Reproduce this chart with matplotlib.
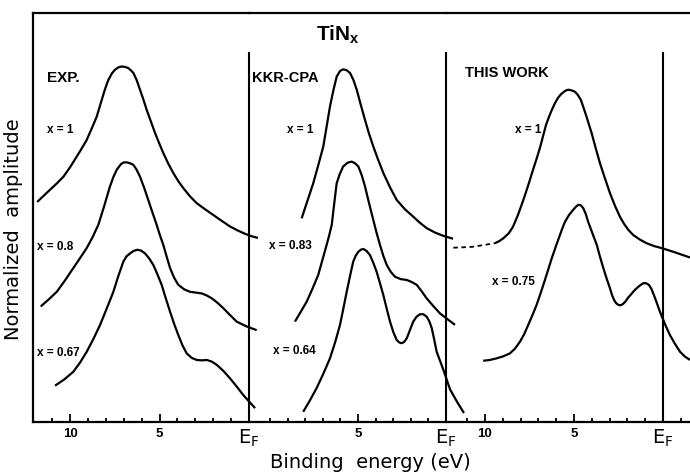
import matplotlib
matplotlib.use("Agg")
import matplotlib.pyplot as plt

# Panel 1: experiment (binding energy in eV, normalized amplitude in arb. units)
exp_x1_e = [11.84, 11.48, 11.12, 10.75, 10.37, 10.00, 9.63, 9.35, 9.07, 8.80, 8.51, 8.23,
            8.05, 7.86, 7.66, 7.49, 7.29, 7.11, 6.93, 6.74, 6.59, 6.46, 6.28, 6.09,
            5.90, 5.72, 5.48, 5.25, 5.02, 4.79, 4.50, 4.23, 3.95, 3.67, 3.30, 2.92,
            2.45, 1.99, 1.50, 1.06, 0.62, 0.22, -0.15, -0.50]
exp_x1_a = [5.39, 5.54, 5.69, 5.84, 6.01, 6.24, 6.50, 6.70, 6.91, 7.18, 7.48, 7.89,
            8.15, 8.38, 8.54, 8.63, 8.69, 8.71, 8.70, 8.67, 8.61, 8.55, 8.38, 8.14,
            7.90, 7.65, 7.36, 7.08, 6.83, 6.59, 6.32, 6.10, 5.90, 5.73, 5.53, 5.36,
            5.21, 5.07, 4.92, 4.79, 4.69, 4.61, 4.55, 4.51]
exp_x08_e = [11.64, 11.20, 10.74, 10.28, 9.82, 9.45, 9.07, 8.75, 8.42, 8.10, 7.77, 7.58,
             7.39, 7.15, 6.99, 6.83, 6.65, 6.46, 6.28, 6.09, 5.86, 5.63, 5.40, 5.16,
             4.98, 4.79, 4.60, 4.41, 4.18, 3.95, 3.62, 3.30, 2.97, 2.64, 2.36, 2.08,
             1.76, 1.44, 1.06, 0.69, 0.13, -0.43]
exp_x08_a = [2.83, 3.00, 3.19, 3.47, 3.77, 4.01, 4.26, 4.52, 4.83, 5.28, 5.77, 6.00,
             6.18, 6.32, 6.36, 6.36, 6.34, 6.30, 6.18, 6.01, 5.74, 5.44, 5.14, 4.83,
             4.58, 4.34, 4.05, 3.77, 3.53, 3.36, 3.25, 3.19, 3.17, 3.15, 3.10, 3.03,
             2.92, 2.79, 2.62, 2.46, 2.34, 2.25]
exp_x067_e = [10.84, 10.33, 9.82, 9.45, 9.07, 8.70, 8.32, 7.95, 7.58, 7.30, 7.02, 6.84,
              6.65, 6.45, 6.24, 6.03, 5.81, 5.58, 5.35, 5.12, 4.88, 4.65, 4.41, 4.18,
              3.95, 3.72, 3.48, 3.20, 2.92, 2.64, 2.36, 2.08, 1.80, 1.43, 1.06, 0.69,
              0.32, -0.34]
exp_x067_a = [0.89, 1.04, 1.23, 1.45, 1.72, 2.03, 2.38, 2.78, 3.19, 3.58, 3.93, 4.06,
              4.13, 4.19, 4.22, 4.20, 4.13, 4.01, 3.85, 3.62, 3.36, 3.03, 2.70, 2.40,
              2.13, 1.88, 1.68, 1.57, 1.52, 1.51, 1.52, 1.48, 1.40, 1.25, 1.07, 0.87,
              0.66, 0.34]

# Panel 2: KKR-CPA
kkr_x1_e = [8.20, 7.87, 7.54, 7.25, 6.97, 6.78, 6.59, 6.40, 6.21, 6.02, 5.84, 5.65,
            5.45, 5.26, 5.07, 4.84, 4.60, 4.37, 4.13, 3.85, 3.56, 3.18, 2.80, 2.33,
            1.86, 1.48, 1.10, 0.62, 0.15, -0.40]
kkr_x1_a = [4.99, 5.42, 5.85, 6.30, 6.75, 7.24, 7.73, 8.12, 8.46, 8.60, 8.64, 8.62,
            8.55, 8.38, 8.14, 7.77, 7.40, 7.06, 6.75, 6.42, 6.10, 5.75, 5.44, 5.21,
            5.03, 4.88, 4.75, 4.64, 4.56, 4.49]
kkr_x083_e = [8.58, 8.25, 7.91, 7.58, 7.26, 7.02, 6.78, 6.63, 6.49, 6.35, 6.21, 6.03,
              5.84, 5.60, 5.36, 5.17, 4.98, 4.79, 4.60, 4.37, 4.13, 3.94, 3.75, 3.56,
              3.37, 3.14, 2.90, 2.57, 2.23, 1.95, 1.66, 1.38, 1.10, 0.72, 0.34, -0.08,
              -0.51]
kkr_x083_a = [2.46, 2.70, 2.95, 3.27, 3.60, 3.97, 4.34, 4.58, 4.83, 5.35, 5.85, 6.08,
              6.26, 6.35, 6.38, 6.34, 6.26, 6.05, 5.77, 5.36, 4.95, 4.63, 4.34, 4.07,
              3.85, 3.68, 3.56, 3.50, 3.48, 3.43, 3.36, 3.20, 3.03, 2.84, 2.66, 2.52,
              2.38]
kkr_x064_e = [8.11, 7.73, 7.35, 6.97, 6.59, 6.30, 6.02, 5.83, 5.64, 5.45, 5.27, 5.12,
              4.98, 4.84, 4.70, 4.51, 4.32, 4.13, 3.94, 3.75, 3.56, 3.37, 3.18, 2.99,
              2.80, 2.66, 2.52, 2.38, 2.23, 2.05, 1.86, 1.67, 1.48, 1.29, 1.10, 0.95,
              0.81, 0.67, 0.53, 0.34, 0.15, -0.23, -0.62, -1.02]
kkr_x064_a = [0.25, 0.53, 0.83, 1.18, 1.56, 1.95, 2.38, 2.78, 3.19, 3.58, 3.93, 4.08,
              4.17, 4.22, 4.24, 4.19, 4.09, 3.90, 3.68, 3.40, 3.11, 2.78, 2.46, 2.20,
              2.01, 1.95, 1.93, 1.96, 2.05, 2.25, 2.46, 2.58, 2.64, 2.64, 2.58, 2.47,
              2.30, 2.02, 1.72, 1.50, 1.28, 0.80, 0.50, 0.22]

# Panel 3: this work (x = 1 has a dashed low-energy tail)
this_x1_tail_e = [11.78, 10.73, 9.72, 9.44]
this_x1_tail_a = [4.27, 4.29, 4.36, 4.38]
this_x1_e = [9.44, 9.20, 8.97, 8.65, 8.43, 8.15, 7.95, 7.75, 7.52, 7.30, 7.10, 6.91,
             6.74, 6.57, 6.40, 6.24, 6.07, 5.90, 5.73, 5.56, 5.42, 5.28, 5.11, 4.94,
             4.78, 4.61, 4.31, 4.01, 3.78, 3.54, 3.26, 2.98, 2.70, 2.42, 2.18, 1.95,
             1.67, 1.30, 0.92, 0.50, 0.07, -0.58, -1.52]
this_x1_a = [4.38, 4.43, 4.50, 4.63, 4.78, 5.07, 5.31, 5.56, 5.87, 6.18, 6.45, 6.72,
             7.00, 7.28, 7.48, 7.65, 7.81, 7.94, 8.03, 8.09, 8.13, 8.14, 8.12, 8.09,
             8.01, 7.89, 7.50, 7.08, 6.71, 6.34, 5.97, 5.61, 5.30, 5.03, 4.85, 4.71,
             4.58, 4.47, 4.38, 4.31, 4.26, 4.17, 4.03]
this_x075_e = [10.10, 9.72, 9.34, 8.97, 8.60, 8.31, 8.03, 7.80, 7.57, 7.33, 7.10, 6.91,
               6.72, 6.48, 6.25, 6.02, 5.79, 5.65, 5.51, 5.28, 5.04, 4.90, 4.76, 4.62,
               4.48, 4.34, 4.20, 3.96, 3.72, 3.54, 3.35, 3.17, 2.98, 2.87, 2.75, 2.63,
               2.51, 2.38, 2.25, 2.11, 1.97, 1.77, 1.57, 1.34, 1.11, 0.95, 0.79, 0.65,
               0.51, 0.34, 0.17, -0.11, -0.39, -0.68, -0.96, -1.24, -1.52]
this_x075_a = [1.50, 1.52, 1.56, 1.61, 1.68, 1.80, 1.97, 2.15, 2.38, 2.62, 2.87, 3.11,
               3.36, 3.69, 4.01, 4.30, 4.58, 4.75, 4.90, 5.07, 5.20, 5.27, 5.32, 5.31,
               5.24, 5.10, 4.90, 4.62, 4.34, 4.05, 3.77, 3.52, 3.28, 3.12, 2.99, 2.91,
               2.87, 2.86, 2.89, 2.95, 3.04, 3.14, 3.24, 3.33, 3.40, 3.40, 3.36, 3.26,
               3.11, 2.91, 2.70, 2.40, 2.13, 1.91, 1.72, 1.60, 1.52]

Y_TOP = 10.02   # top frame line
EF_TOP = 9.07   # height of the Fermi-level markers
LW = 1.6
FONT = "Liberation Sans"


def style_panel(ax, xlim, major, labels, minor):
    """Frame, ticks and Fermi-level line of one sub-panel."""
    ax.set_xlim(*xlim)
    ax.set_ylim(0, Y_TOP)
    ax.patch.set_visible(False)
    ax.spines["left"].set_visible(False)
    ax.spines["right"].set_visible(False)
    for side in ("top", "bottom"):
        ax.spines[side].set_linewidth(1.6)
    ax.set_yticks([])
    ax.set_xticks(major)
    ax.set_xticklabels(labels)
    ax.set_xticks(minor, minor=True)
    ax.tick_params(axis="x", which="both", direction="in", width=1.3, pad=4)
    ax.tick_params(axis="x", which="major", length=6)
    ax.tick_params(axis="x", which="minor", length=3)
    for lab in ax.get_xticklabels():
        if lab.get_text().startswith("E"):
            lab.set_fontsize(14)
            lab.set_fontfamily("DejaVu Sans")
        else:
            lab.set_fontsize(9.5)
            lab.set_fontweight("bold")
            lab.set_fontfamily(FONT)
    # Fermi level marker, drawn above the frame so neighbouring panels don't thin it
    ax.vlines(0, 0, EF_TOP, color="k", lw=1.5, clip_on=False, zorder=5)


def curve(ax, e, a, **kw):
    ax.plot(e, a, color="k", lw=LW, clip_on=False, solid_capstyle="butt",
            solid_joinstyle="round", **kw)


def note(ax, e, a, s, size=8.5):
    ax.text(e, a, s, ha="left", va="center", fontsize=size,
            fontweight="bold", family=FONT)


fig = plt.figure(figsize=(6.9, 4.76), dpi=100)
bottom, height = 54 / 476, 409 / 476
ax1 = fig.add_axes([33 / 690, bottom, 216 / 690, height])
ax2 = fig.add_axes([249 / 690, bottom, 197 / 690, height])
ax3 = fig.add_axes([446 / 690, bottom, 254 / 690, height])

ef = "E$_\\mathregular{F}$"
style_panel(ax1, (12.07, 0), [10, 5, 0], ["10", "5", ef],
            [11, 9, 8, 7, 6, 4, 3, 2, 1])
style_panel(ax2, (11.19, 0), [5, 0], ["5", ef],
            [10, 9, 8, 7, 6, 4, 3, 2, 1])
style_panel(ax3, (12.19, -2.08), [10, 5, 0], ["10", "5", ef],
            [11, 9, 8, 7, 6, 4, 3, 2, 1, -1])
ax1.spines["left"].set_visible(True)
ax1.spines["left"].set_linewidth(1.6)

curve(ax1, exp_x1_e, exp_x1_a)
curve(ax1, exp_x08_e, exp_x08_a)
curve(ax1, exp_x067_e, exp_x067_a)
curve(ax2, kkr_x1_e, kkr_x1_a)
curve(ax2, kkr_x083_e, kkr_x083_a)
curve(ax2, kkr_x064_e, kkr_x064_a)
ax3.plot(this_x1_tail_e, this_x1_tail_a, color="k", lw=1.3, ls=(0, (2.5, 2)),
         clip_on=False)
curve(ax3, this_x1_e, this_x1_a)
curve(ax3, this_x075_e, this_x075_a)

note(ax1, 11.28, 8.43, "EXP.", size=11)
note(ax1, 11.28, 7.16, "x = 1")
note(ax1, 11.84, 4.29, "x = 0.8")
note(ax1, 11.84, 1.69, "x = 0.67")
note(ax2, 11.02, 8.43, "KKR-CPA", size=10.5)
note(ax2, 9.03, 7.16, "x = 1")
note(ax2, 10.06, 4.31, "x = 0.83")
note(ax2, 9.83, 1.74, "x = 0.64")
note(ax3, 11.12, 8.55, "THIS WORK", size=10.5)
note(ax3, 8.31, 7.16, "x = 1")
note(ax3, 9.61, 3.43, "x = 0.75")

fig.text(338 / 690, 1 - 35 / 476, "TiN$_\\mathregular{x}$", ha="center", va="center",
         fontsize=15, fontweight="bold", family=FONT)
fig.text(14 / 690, 1 - 229 / 476, "Normalized  amplitude", rotation=90,
         ha="center", va="center", fontsize=14, family="DejaVu Sans")
fig.text(370 / 690, 1 - 463 / 476, "Binding  energy (eV)", ha="center",
         va="center", fontsize=14, family="DejaVu Sans")

fig.savefig("out.png", dpi=100)
plt.close(fig)
